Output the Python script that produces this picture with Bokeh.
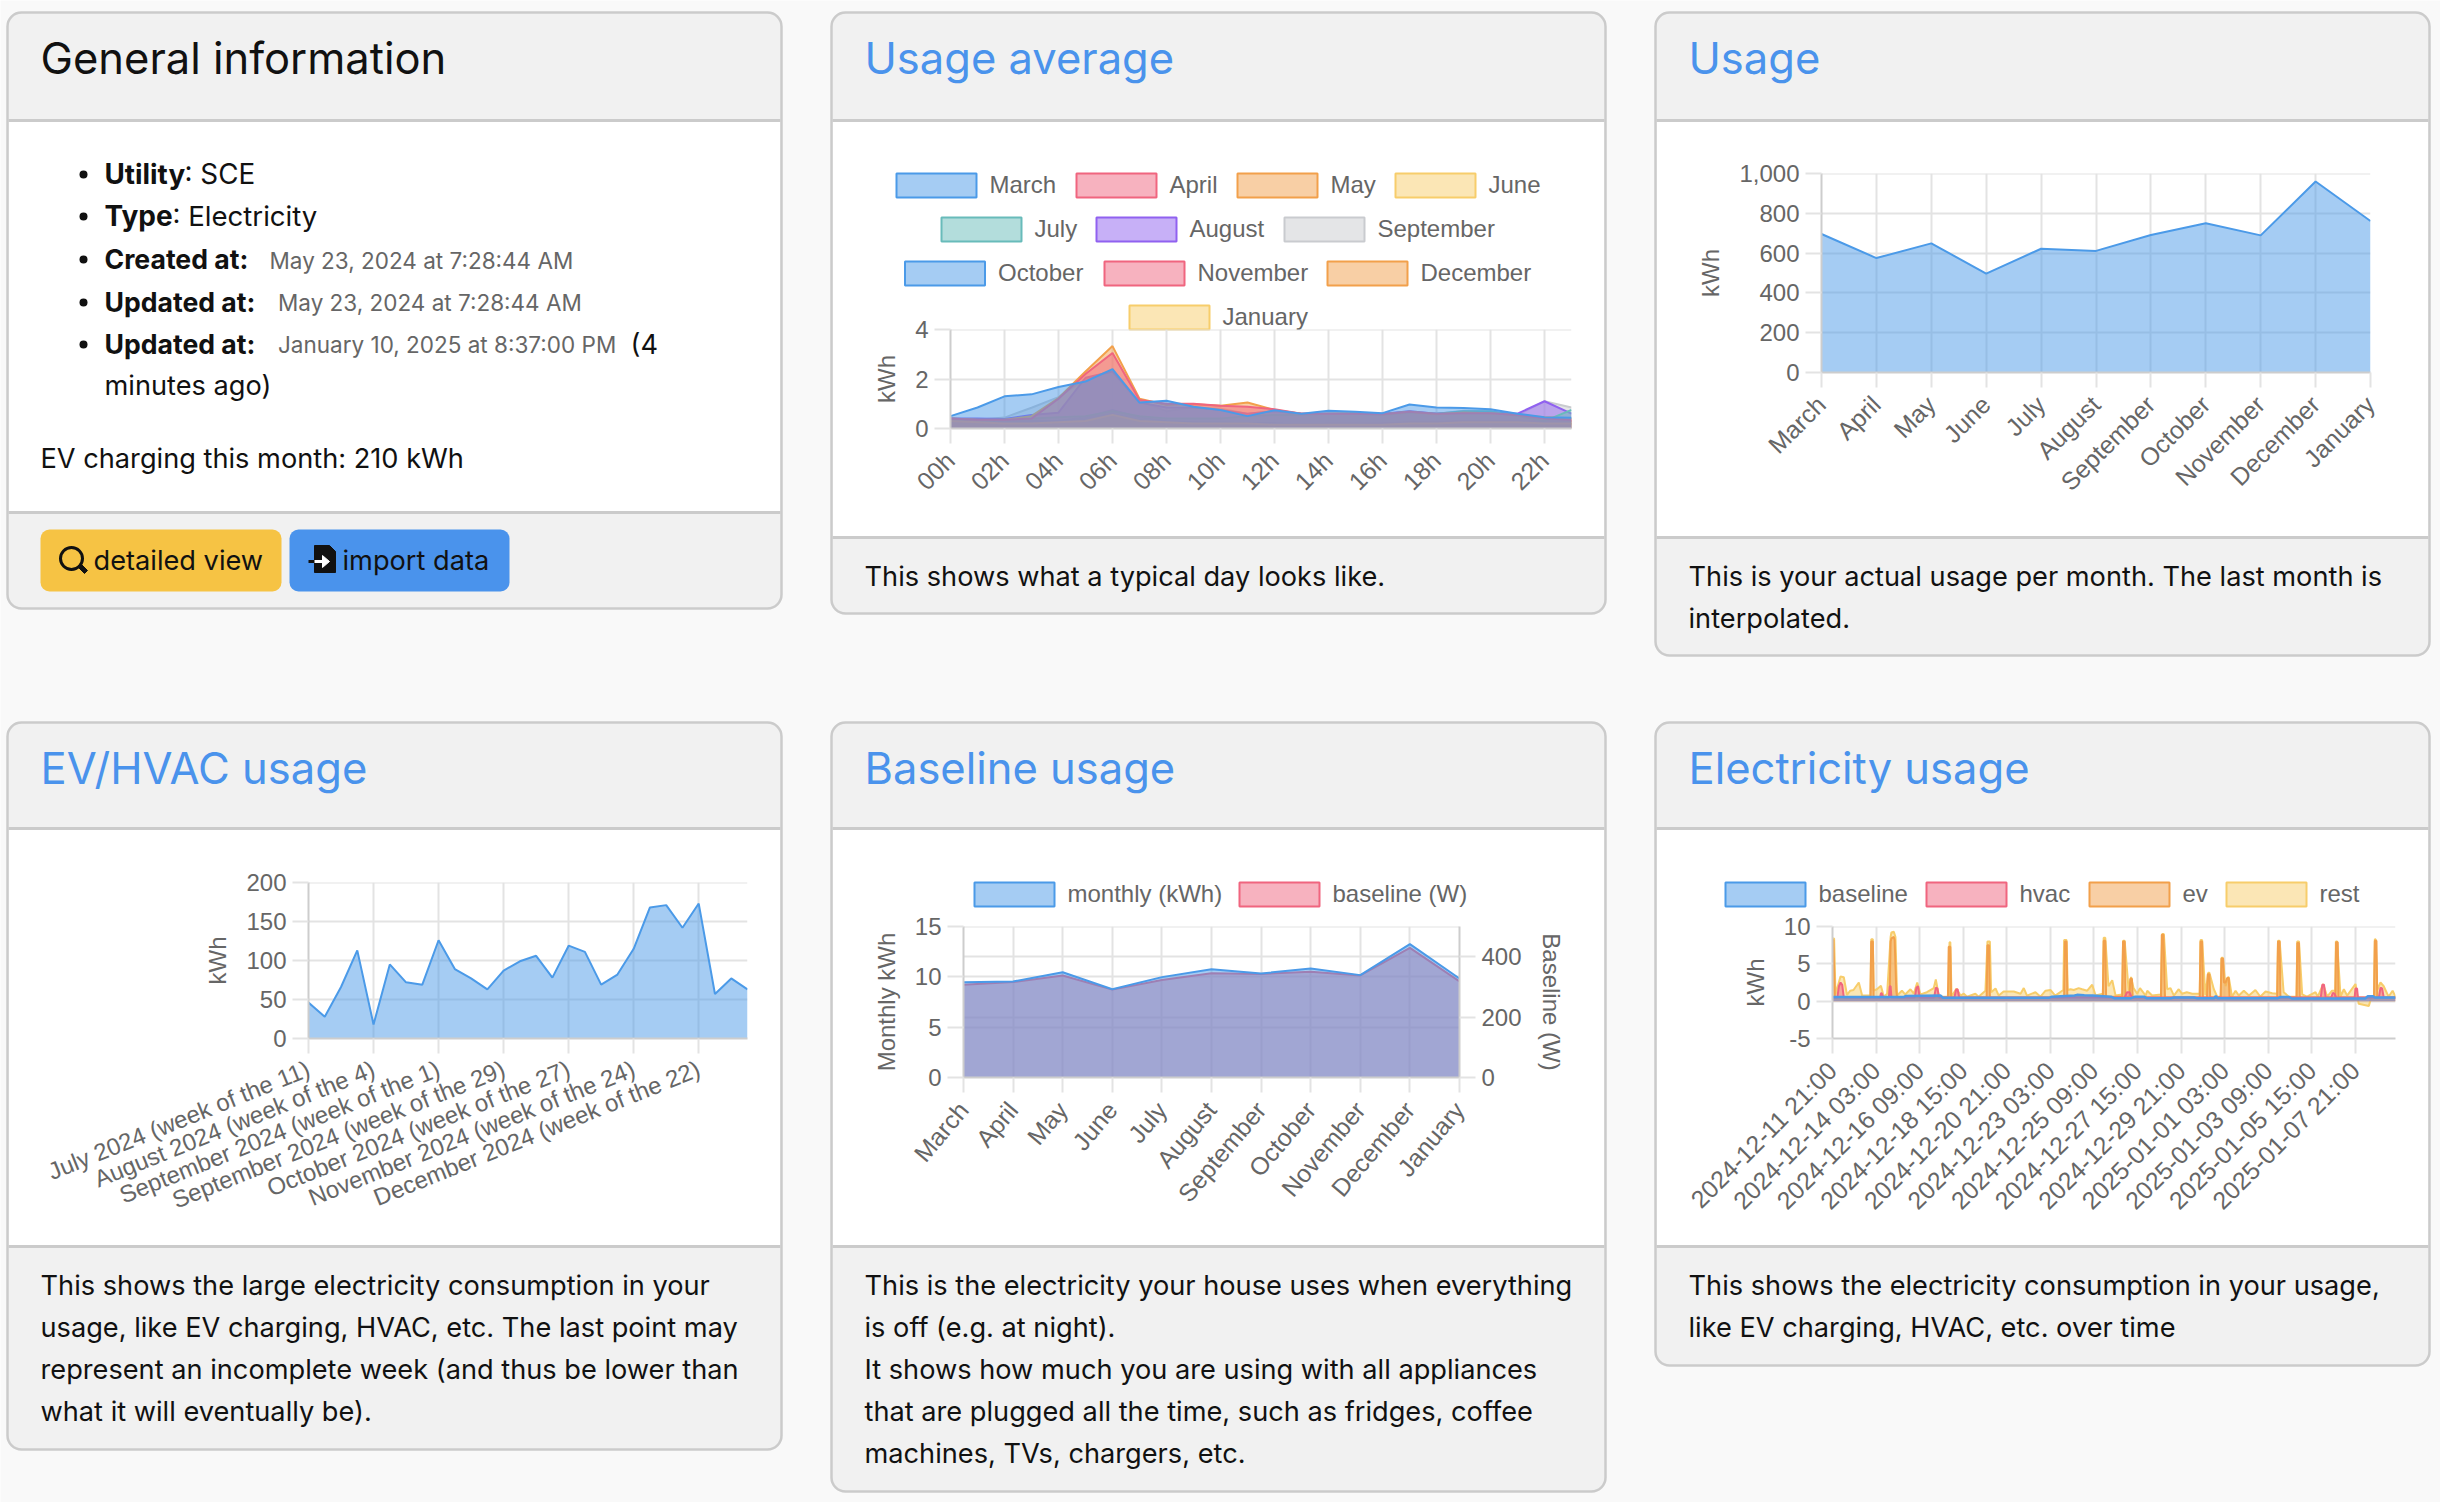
import math
import numpy as np
from bokeh.embed import file_html
from bokeh.resources import INLINE
from bokeh.plotting import figure
from bokeh.layouts import column, row
from bokeh.models import (BoxAnnotation, Label, PolyAnnotation, Range1d, FixedTicker, LinearAxis,
                          Grid, Span)

# ---------- data ----------
hours_labels = ["%02dh" % h for h in range(24)]
months = ["March", "April", "May", "June", "July", "August", "September", "October", "November", "December", "January"]

avg_march = [.5, .85, 1.3, 1.38, 1.68, 1.9, 2.4, 1.05, 1.12, .88, .75, .5, .74, .6, .72, .68, .62, .97, .85, .83, .78, .6, .45, .43]
avg_april = [.4, .35, .35, .4, 1.2, 2.2, 3.05, 1.15, 1.0, 1.0, .92, .88, .78, .6, .6, .6, .58, .68, .6, .62, .62, .55, .4, .35]
avg_may = [.4, .35, .35, .5, 1.23, 2.3, 3.33, 1.2, .95, .98, .92, 1.05, .75, .6, .6, .62, .58, .68, .58, .65, .62, .55, .45, .4]
avg_june = [.3, .25, .2, .2, .25, .3, .55, .3, .25, .2, .2, .2, .15, .15, .15, .15, .15, .2, .2, .25, .25, .25, .2, .2]
avg_july = [.3, .3, .35, .4, .45, .5, .7, .5, .4, .4, .4, .5, .55, .55, .6, .6, .55, .65, .6, .7, .7, .5, .3, .75]
avg_august = [.4, .4, .38, .55, .64, 2.05, 2.3, 1.05, .85, .85, .75, .6, .7, .6, .6, .6, .6, .7, .6, .65, .65, .6, 1.1, .6]
avg_september = [.4, .35, .44, .84, 1.27, 2.0, 2.3, 1.1, .7, .85, .8, .6, .72, .58, .62, .62, .58, .7, .6, .72, .7, .55, 1.1, .85]
avg_october = [.4, .3, .25, .3, .3, .45, .75, .45, .3, .25, .25, .2, .2, .15, .15, .15, .15, .2, .2, .2, .2, .25, .2, .2]
avg_november = [.35, .3, .25, .3, .3, .4, .6, .3, .25, .25, .2, .2, .2, .15, .15, .15, .2, .25, .25, .3, .3, .3, .3, .3]
avg_december = [.3, .3, .3, .3, .3, .4, .55, .35, .25, .2, .2, .2, .2, .15, .2, .2, .2, .25, .25, .3, .3, .3, .3, .3]
avg_january = [.25, .2, .2, .2, .25, .3, .4, .25, .2, .2, .2, .2, .15, .15, .15, .15, .15, .2, .2, .2, .2, .2, .2, .2]
avg_all = [avg_march, avg_april, avg_may, avg_june, avg_july, avg_august, avg_september, avg_october, avg_november, avg_december, avg_january]

usage = [696, 575, 649, 497, 622, 611, 691, 750, 689, 960, 761]
monthly_kwh = [9.47, 9.54, 10.46, 8.77, 9.97, 10.76, 10.33, 10.83, 10.17, 13.25, 9.83]
baseline_w = [307, 316, 338, 291, 323, 345, 343, 350, 338, 429, 318]

evhvac = [46, 28, 66, 113, 18, 95, 72, 69, 126, 89, 77, 63, 87, 99, 106, 78, 119, 111, 69, 82, 115, 168, 171, 142, 173, 57, 77, 63]
week_labels = ["July 2024 (week of the 11)", "August 2024 (week of the 4)", "September 2024 (week of the 1)",
               "September 2024 (week of the 29)", "October 2024 (week of the 27)", "November 2024 (week of the 24)",
               "December 2024 (week of the 22)"]

time_labels = ["2024-12-11 21:00", "2024-12-14 03:00", "2024-12-16 09:00", "2024-12-18 15:00", "2024-12-20 21:00",
               "2024-12-23 03:00", "2024-12-25 09:00", "2024-12-27 15:00", "2024-12-29 21:00", "2025-01-01 03:00",
               "2025-01-03 09:00", "2025-01-05 15:00", "2025-01-07 21:00"]
time_ticks = [0, 54, 108, 162, 216, 270, 324, 378, 432, 486, 540, 594, 648]

# stacked levels: hours since the first tick, kWh
base_h = [0, 88, 91, 134, 137, 268, 272, 300, 303, 312, 322, 345, 349, 370, 375, 386, 389, 420, 423, 448, 451, 473, 475, 477, 552, 555, 566, 569, 660, 663, 670, 672, 690, 697.6]
base_v = [.55, .55, .7, .75, .45, .45, .6, .75, .85, .8, .75, .6, .4, .4, .6, .6, .4, .4, .5, .5, .4, .4, .7, .4, .4, .55, .55, .35, .35, .65, .65, .5, .5, .5]
hvac_h = [0, 6, 8, 10, 12, 14, 59, 60, 61, 63, 70, 71, 72, 73, 102, 104, 106, 108, 126, 128, 130, 132, 151, 153, 155, 157, 362, 365, 368, 371, 605, 607, 609, 611, 618, 620, 622, 624, 647, 648, 650, 651, 677, 679, 681, 683, 697.6]
hvac_v = [.5, .5, 2, 2.5, 2.2, .5, .5, 1.05, 1.05, .5, .5, 2, 2, .5, .5, 1.8, 2, .5, .5, 1.8, 1.7, .5, .5, 1.5, 1.6, .5, .5, 1.2, 1.2, .5, .5, 2.2, 2.2, .5, .5, 1.1, 1, .5, .5, 1.7, 1.7, .5, .5, 1.8, 1.7, .5, .5]
ev_h = [0, 1, 3, 47, 48, 50, 51, 70, 71, 72, 73, 76, 77, 79, 80, 143, 144, 146, 147, 191, 192, 194, 195, 287, 288, 290, 291, 335, 336, 338, 339, 359, 360, 362, 363, 368, 369, 371, 372, 407, 408, 410, 412, 455, 456, 458, 459, 464, 465, 467, 468, 481, 482, 484, 485, 487, 489, 491, 492, 551, 552, 554, 555, 575, 576, 578, 579, 623, 624, 626, 627, 671, 672, 674, 675, 697.6]
ev_v = [8.2, 8.2, .5, .5, 8, 8, .5, .5, 2, 8, 8.4, 8.6, 8.2, 1.5, .5, .5, 7.3, 7.3, .5, .5, 7.5, 7.5, .5, .5, 8, 8, .7, .7, 8.1, 8.1, .6, .6, 8, 8, .6, .6, 3, 3, .5, .5, 8.9, 8.9, .5, .5, 8, 8, .5, .5, 3.6, 3.6, .5, .5, 5.7, 5.7, 2.5, 2.5, 3.1, 3.1, .5, .5, 8, 8, .5, .5, 7.8, 7.8, .5, .5, 7.9, 7.9, .5, .5, 8.1, 8.1, .5, .5]
rest_h = [0, 2, 3.7, 9.9, 14, 18, 22, 26, 32.6, 36.7, 47, 48, 50, 51, 55, 60, 63.6, 67.7, 72, 73, 76, 78, 80, 86, 90, 96.6, 100.7, 105, 109, 117, 125.5, 128, 132, 138, 144, 145, 146, 147.5, 153.6, 158.6, 162.7, 166.8, 177, 181, 189.5, 192, 195, 196.6, 202, 206, 212, 224.6, 233, 237, 241, 251.5, 257.7, 264, 270, 276, 286, 287, 290, 291.5, 295, 299, 305, 309.4, 315.6, 321.8, 326, 335, 336, 338, 342, 346.6, 350.7, 359, 360, 362, 367, 370, 373, 377.6, 381, 388, 390, 396, 407, 408.5, 410.6, 414.7, 418.8, 423, 429, 433, 439, 445.7, 455, 456, 458, 462, 465.5, 467, 472.5, 476.7, 481, 482, 483.7, 487, 490, 491, 495, 499.4, 503.5, 509.7, 516, 524, 530, 536.6, 544.8, 551, 552, 554, 559, 565.5, 575, 575.8, 578, 582, 588, 598.5, 601.4, 608, 613, 619, 623, 623.7, 625.3, 629.5, 633.6, 637.7, 648, 652, 664.6, 667.5, 671, 672, 673, 675, 679, 683, 689, 694, 697.6]
rest_v = [8.4, 8.4, .88, 3.3, 3.2, .83, 1.4, 1.5, 2.5, .75, .75, 8.3, 8.3, 1.4, 1.6, 2.06, .6, 1, 8.6, 9.2, 9.3, 8.6, .75, 1.4, .9, 1.6, 1, 2.5, .9, 1.2, 1.75, 2.9, .6, .6, .6, 7.9, 7.9, .6, 1.7, .75, 1, .6, 1, .6, 1.4, 8, 8, 1.2, 1.7, .75, 1.3, 1.3, 1, 1.75, .75, 1.2, .6, 1.4, 1.5, .75, 1.5, 8.2, 8.2, 1.5, 1.6, 1.5, 1.75, 1.6, 1.4, 2.2, .75, 1, 8.5, 8.5, 2, 2.8, .75, .9, 8.1, 8.1, 1.4, 3.25, 1.75, 1, 1.75, .75, 1.4, .75, .9, 9, 9, 1.6, 1.75, .75, 1.6, 1, 1.2, 1, 1, 8.2, 8.2, .8, 3.8, 3.8, 1.6, .6, .6, 5.8, 5.8, 2, 3.2, 3.2, .6, 1.4, .75, 1.4, .75, 1.5, .6, 1.3, 1.05, 1, 8.1, 8.1, 1.2, .6, .6, 8, 8, .9, .6, 1.2, .6, 2.3, .6, 1.4, 1.4, 8, 8, .6, 1.6, .75, 2.3, -.35, -.65, .5, .7, 8.3, 8.3, 1.5, 2.5, 2, .6, 1.4, .6]

# ---------- style ----------
BLUE, RED, ORANGE, YELLOW, TEAL, PURPLE, GREY = "#4b9ae8", "#f0657f", "#f2a04b", "#f7cd6b", "#68bbba", "#9061f0", "#c9cbcf"
PALETTE = [BLUE, RED, ORANGE, YELLOW, TEAL, PURPLE, GREY, BLUE, RED, ORANGE, YELLOW]
PAGE, PANEL, EDGE, LINK, INK, MUTED = "#f9f9f9", "#f1f1f1", "#cbcbcb", "#4a93ec", "#111111", "#666666"
GRID, AXIS = "#e3e3e3", "#cdcdcd"
BODY_FONT = "Inter"
CHART_FONT = "Liberation Sans"
BODY = 27.2
BOLD = 26.6
TITLE = 43.5
SMALL = 22.5

COLS = [(0, 806), (806, 824), (1630, 810)]
ROWS = [(0, 690), (690, 812)]

# page-sized background figure that carries the cards, texts and legends
bg = figure(width=2440, height=1502, output_backend="svg", toolbar_location=None,
            x_axis_location=None, y_axis_location=None, min_border=0,
            x_range=Range1d(0, 2440), y_range=Range1d(1502, 0),
            border_fill_color=PAGE, background_fill_color=PAGE, outline_line_color=None, margin=0)
bg.grid.visible = False


def make_fig(col, rw, frame, xr, yr):
    ox, w = COLS[col]
    oy, h = ROWS[rw]
    l, t, r, b = frame
    return figure(width=w, height=h, output_backend="svg", toolbar_location=None, frame_align=False,
                  x_range=Range1d(*xr), y_range=Range1d(*yr),
                  min_border_left=l - ox, min_border_right=ox + w - r,
                  min_border_top=t - oy, min_border_bottom=oy + h - b,
                  border_fill_alpha=0, background_fill_alpha=0, outline_line_color=None, margin=0)


def box(l, t, r, b, fill, line=None, lw=0, radius=0, alpha=1.0, level="image"):
    bg.add_layout(BoxAnnotation(left=l, right=r, top=t, bottom=b,
                                left_units="canvas", right_units="canvas", top_units="canvas", bottom_units="canvas",
                                fill_color=fill, fill_alpha=alpha, line_color=line, line_width=lw, line_alpha=1,
                                border_radius=radius, level=level, editable=False))


def poly(xs, ys, color):
    bg.add_layout(PolyAnnotation(xs=xs, ys=ys, xs_units="canvas", ys_units="canvas", fill_color=color, fill_alpha=1,
                                 line_color=color, line_width=1, line_alpha=1, editable=False))


def txt(x, y, s, color=INK, size=BODY, style="normal", font=BODY_FONT, align="left"):
    bg.add_layout(Label(x=x, y=y, x_units="canvas", y_units="canvas", text=s, text_color=color,
                        text_font=font, text_font_size="%.1fpx" % size, text_font_style=style,
                        text_baseline="middle", text_align=align, level="annotation"))


def card(l, t, r, b, head, foot, title, title_color, notes):
    box(l, t, r, b, PANEL, EDGE, 2.5, 14)
    box(l + 1.5, head, r - 1.5, foot, "white")
    box(l + 1, head - 1.5, r - 1, head + 1.5, EDGE)
    box(l + 1, foot - 1.5, r - 1, foot + 1.5, EDGE)
    txt(l + 33, t + 45, title, color=title_color, size=TITLE)
    for y, s in notes:
        txt(l + 33, y - 0.5, s)


def style_axes(p, xticks, xlabels, yticks, ylabels, ylabel, angle, standoff=12, label_off=13, xfont="24.8px"):
    ax = p.xaxis[0]
    ax.ticker = FixedTicker(ticks=xticks)
    ax.major_label_overrides = dict(zip(xticks, xlabels))
    ax.major_label_orientation = math.radians(angle)
    ax.major_tick_in = 0
    ax.major_tick_out = 15
    ax.major_tick_line_color = GRID
    ax.major_tick_line_width = 2
    ax.minor_tick_line_color = None
    ax.axis_line_color = AXIS
    ax.axis_line_width = 2
    ax.major_label_text_color = MUTED
    ax.major_label_text_font = CHART_FONT
    ax.major_label_text_font_size = xfont
    ax.major_label_standoff = label_off
    ay = p.yaxis[0]
    ay.ticker = FixedTicker(ticks=yticks)
    ay.major_label_overrides = dict(zip(yticks, ylabels))
    ay.major_tick_in = 0
    ay.major_tick_out = 16
    ay.major_tick_line_color = GRID
    ay.major_tick_line_width = 2
    ay.minor_tick_line_color = None
    ay.axis_line_color = AXIS
    ay.axis_line_width = 2
    ay.major_label_text_color = MUTED
    ay.major_label_text_font = CHART_FONT
    ay.major_label_text_font_size = "24px"
    ay.major_label_standoff = 6
    ay.axis_label = ylabel
    ay.axis_label_text_color = MUTED
    ay.axis_label_text_font = CHART_FONT
    ay.axis_label_text_font_size = "24px"
    ay.axis_label_text_font_style = "normal"
    ay.axis_label_standoff = standoff
    p.xgrid.ticker = FixedTicker(ticks=xticks)
    p.ygrid.ticker = FixedTicker(ticks=yticks)
    for g in (p.xgrid[0], p.ygrid[0]):
        g.grid_line_color = GRID
        g.grid_line_width = 2
    p.add_layout(Span(location=p.y_range.end, dimension="width", line_color=GRID, line_width=2, level="underlay"))


def area(p, x, y, color, lw=2.0, **kw):
    x = np.asarray(x, float)
    y = np.asarray(y, float)
    p.varea(x=x, y1=np.zeros_like(y), y2=y, fill_color=color, fill_alpha=0.5, **kw)
    p.line(x=x, y=y, line_color=color, line_width=lw, **kw)


def legend_entry(left, cy, name, color):
    box(left, cy - 12, left + 80, cy + 12, color, None, 0, alpha=0.5, level="annotation")
    box(left, cy - 12, left + 80, cy + 12, None, color, 2, alpha=0, level="annotation")
    txt(left + 93, cy - 1, name, color=MUTED, size=24, font=CHART_FONT)


# ---------- card 1: general information ----------
card(7, 12, 781, 608, 120, 512, "General information", INK, [(458, "EV charging this month: 210 kWh")])
for y in (174, 216, 259, 302, 344):
    box(79, y - 4, 87, y + 4, "#111111", None, 0, radius=4, level="annotation")
txt(104, 173.5, "Utility", style="bold", size=27.8)
txt(184, 173.5, ": SCE", size=27.8)
txt(104, 215.5, "Type", style="bold", size=28)
txt(172, 215.5, ": Electricity", size=27.6)
txt(104, 258.5, "Created at:", style="bold", size=BOLD)
txt(269, 259.5, "May 23, 2024 at 7:28:44 AM", color=MUTED, size=SMALL)
txt(104, 301.5, "Updated at:", style="bold", size=BOLD)
txt(277.5, 301.5, "May 23, 2024 at 7:28:44 AM", color=MUTED, size=SMALL)
txt(104, 343.5, "Updated at:", style="bold", size=BOLD)
txt(277.5, 343.5, "January 10, 2025 at 8:37:00 PM", color=MUTED, size=SMALL)
txt(630, 343.5, "(4")
txt(104, 384.5, "minutes ago)")
box(40, 529, 281, 591, "#f6c344", radius=9, level="annotation")
box(289, 529, 509, 591, "#4a93ec", radius=9, level="annotation")
box(60, 547, 82, 569, None, "#111111", 3, radius=11, alpha=0, level="annotation")
poly([77, 80, 87, 84], [566, 563, 570, 573], "#111111")
txt(93, 559.5, "detailed view")
poly([314, 329, 335, 335, 314], [545, 545, 551, 572, 572], "#111111")
box(308, 559.5, 322, 562.5, "#111111", level="annotation")
box(314, 559.5, 324, 562.5, "white", level="annotation")
poly([322, 329, 322], [555, 561, 567], "white")
txt(342, 559.5, "import data")

# ---------- card 2: usage average ----------
p2 = make_fig(1, 0, (950, 329, 1571, 428), (0, 23), (0, 4))
card(831, 12, 1605, 613, 120, 537, "Usage average", LINK, [(576, "This shows what a typical day looks like.")])
idx = list(range(0, 24, 2))
style_axes(p2, idx, [hours_labels[i] for i in idx], [0, 2, 4], ["0", "2", "4"], "kWh", 45)
hour_x = list(range(24))
for values, color in reversed(list(zip(avg_all, PALETTE))):
    area(p2, hour_x, values, color)
legend_rows = [(185, [896, 1076, 1237, 1395], months[:4]), (229, [941, 1096, 1284], months[4:7]),
               (273, [904.5, 1104, 1327], months[7:10]), (317, [1129], months[10:])]
n = 0
for cy, lefts, names in legend_rows:
    for left, name in zip(lefts, names):
        legend_entry(left, cy, name, PALETTE[n])
        n += 1

# ---------- card 3: usage ----------
p3 = make_fig(2, 0, (1821, 173, 2370, 372), (0, 10), (0, 1000))
card(1655, 12, 2429, 655, 120, 537, "Usage", LINK,
     [(576, "This is your actual usage per month. The last month is"), (618, "interpolated.")])
mx = list(range(11))
style_axes(p3, mx, months, [0, 200, 400, 600, 800, 1000], ["0", "200", "400", "600", "800", "1,000"], "kWh", 45)
area(p3, mx, usage, BLUE)

# ---------- card 4: EV/HVAC ----------
p4 = make_fig(0, 1, (308, 882, 747, 1038), (0, 27), (0, 200))
card(7, 722, 781, 1449, 828, 1246, "EV/HVAC usage", LINK,
     [(1285, "This shows the large electricity consumption in your"),
      (1327, "usage, like EV charging, HVAC, etc. The last point may"),
      (1369, "represent an incomplete week (and thus be lower than"),
      (1411, "what it will eventually be).")])
style_axes(p4, list(range(0, 28, 4)), week_labels, [0, 50, 100, 150, 200], ["0", "50", "100", "150", "200"], "kWh", 22,
           label_off=14, xfont="24px")
area(p4, list(range(len(evhvac))), evhvac, BLUE)

# ---------- card 5: baseline ----------
p5 = make_fig(1, 1, (963, 926, 1459, 1077), (0, 10), (0, 15))
card(831, 722, 1605, 1491, 828, 1246, "Baseline usage", LINK,
     [(1285, "This is the electricity your house uses when everything"),
      (1327, "is off (e.g. at night)."),
      (1369, "It shows how much you are using with all appliances"),
      (1411, "that are plugged all the time, such as fridges, coffee"),
      (1453, "machines, TVs, chargers, etc.")])
style_axes(p5, mx, months, [0, 5, 10, 15], ["0", "5", "10", "15"], "Monthly kWh", 50)
p5.extra_y_ranges = {"y2": Range1d(0, 500)}
ry = LinearAxis(y_range_name="y2", axis_label="Baseline (W)", ticker=FixedTicker(ticks=[0, 200, 400]))
ry.major_tick_in = 0
ry.major_tick_out = 16
ry.major_tick_line_color = GRID
ry.major_tick_line_width = 2
ry.minor_tick_line_color = None
ry.axis_line_color = AXIS
ry.axis_line_width = 2
ry.major_label_text_color = MUTED
ry.major_label_text_font = CHART_FONT
ry.major_label_text_font_size = "24px"
ry.major_label_standoff = 6
ry.axis_label_text_color = MUTED
ry.axis_label_text_font = CHART_FONT
ry.axis_label_text_font_size = "24px"
ry.axis_label_text_font_style = "normal"
ry.axis_label_standoff = 13
p5.add_layout(ry, "right")
p5.add_layout(Grid(dimension=1, y_range_name="y2", ticker=FixedTicker(ticks=[0, 200, 400]), grid_line_color=GRID, grid_line_width=2))
area(p5, mx, baseline_w, RED, y_range_name="y2")
area(p5, mx, monthly_kwh, BLUE)
legend_entry(974, 894, "monthly (kWh)", BLUE)
legend_entry(1239, 894, "baseline (W)", RED)

# ---------- card 6: electricity ----------
p6 = make_fig(2, 1, (1832, 926, 2395, 1038), (0, 697.6), (-5, 10))
card(1655, 722, 2429, 1365, 828, 1246, "Electricity usage", LINK,
     [(1285, "This shows the electricity consumption in your usage,"),
      (1327, "like EV charging, HVAC, etc. over time")])
style_axes(p6, time_ticks, time_labels, [-5, 0, 5, 10], ["-5", "0", "5", "10"], "kWh", 45)
area(p6, rest_h, rest_v, YELLOW)
area(p6, ev_h, ev_v, ORANGE)
area(p6, hvac_h, hvac_v, RED)
area(p6, base_h, base_v, BLUE, lw=2.5)
legend_entry(1725, 894, "baseline", BLUE)
legend_entry(1926, 894, "hvac", RED)
legend_entry(2089, 894, "ev", ORANGE)
legend_entry(2226, 894, "rest", YELLOW)

# first slot of the top row stays empty: that card has no chart.
spacer_w = COLS[0][1]
top_row = row(p2, p3, spacing=0, margin=(-1502, 0, 0, spacer_w))
root = column(bg, top_row, row(p4, p5, p6, spacing=0, margin=0), spacing=0, margin=0)
open("out.html", "w").write(file_html(root, INLINE))
